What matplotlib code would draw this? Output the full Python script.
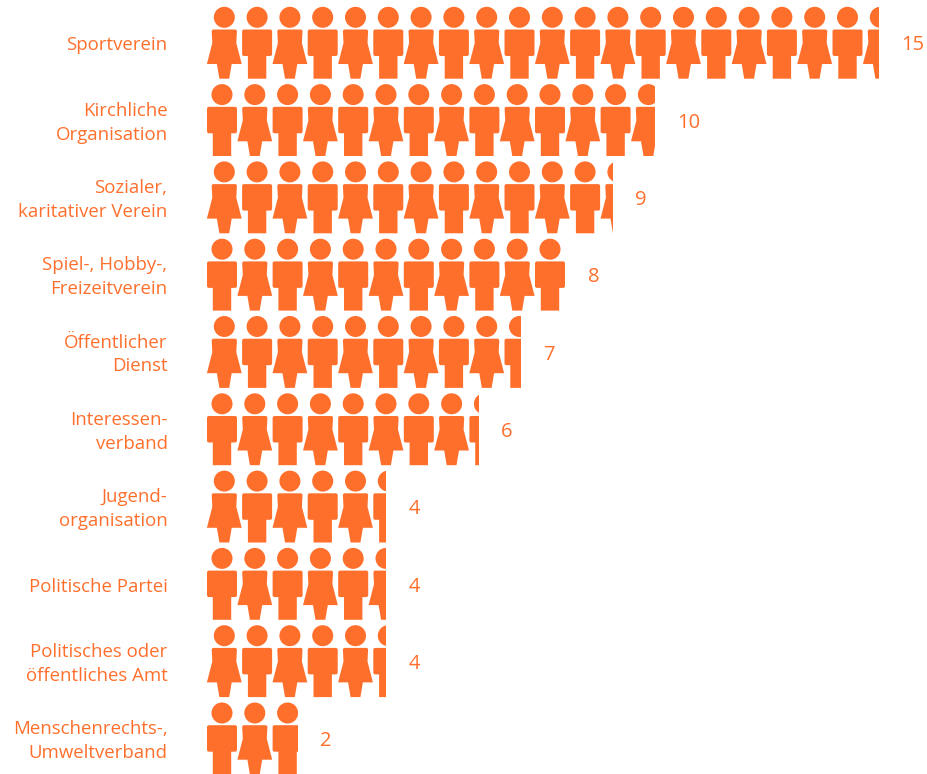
import matplotlib
matplotlib.use('Agg')
import matplotlib.pyplot as plt
from matplotlib.patches import Ellipse, PathPatch, Rectangle
from matplotlib.path import Path
from matplotlib.transforms import ScaledTranslation

plt.rcParams['font.family'] = ['Open Sans', 'DejaVu Sans']

# Categories and values, top to bottom
categories = ['Sportverein', 'Kirchliche\nOrganisation', 'Sozialer,\nkaritativer Verein',
              'Spiel-, Hobby-,\nFreizeitverein', 'Öffentlicher\nDienst', 'Interessen-\nverband',
              'Jugend-\norganisation', 'Politische Partei', 'Politisches oder\nöffentliches Amt',
              'Menschenrechts-,\nUmweltverband']
values = [15, 10, 9.06, 8, 7, 6.07, 4, 4, 4, 2.03]
labels = ['15', '10', '9', '8', '7', '6', '4', '4', '4', '2']

color = '#FF6F2C'

# pixels per unit on the two axes
px_x = 44.8
px_y = 77.3
pitch = 32.8 / px_x

fig = plt.figure(figsize=(9.27, 7.74), dpi=100)
ax = fig.add_axes([207 / 927, 0, 720 / 927, 1])
ax.set_xlim(0, 720 / px_x)
ax.set_ylim((774 - 43.4) / px_y, -43.4 / px_y)

ax.set_yticks(range(len(categories)))
ax.set_yticklabels(categories, color=color, fontsize=13.4, linespacing=1.42, ma='right')
ax.tick_params(axis='y', length=0, pad=28.4)
ax.set_xticks([])
for s in ax.spines.values():
    s.set_visible(False)

# two-line labels sit a little higher than the plain centre
up = ScaledTranslation(0, 2.2 / 72, fig.dpi_scale_trans)
for t, name in zip(ax.get_yticklabels(), categories):
    if '\n' in name:
        t.set_transform(t.get_transform() + up)


def rounded(points, r=2.0):
    # closed polygon with small round corners on the marked points
    verts, codes = [], []
    for n, (x, y, is_round) in enumerate(points):
        if is_round:
            px, py, _ = points[n - 1]
            nx, ny, _ = points[(n + 1) % len(points)]
            d1 = ((px - x) ** 2 + (py - y) ** 2) ** 0.5
            d2 = ((nx - x) ** 2 + (ny - y) ** 2) ** 0.5
            verts += [(x + (px - x) * r / d1, y + (py - y) * r / d1), (x, y),
                      (x + (nx - x) * r / d2, y + (ny - y) * r / d2)]
            codes += [Path.LINETO, Path.CURVE3, Path.CURVE3]
        else:
            verts.append((x, y))
            codes.append(Path.LINETO)
    codes[0] = Path.MOVETO
    verts.append(verts[0])
    codes.append(Path.CLOSEPOLY)
    return verts, codes


# body outlines in pixels around the figure's centre line and the row's centre
woman = [(-12.7, -13.9, 1), (12.7, -13.9, 1), (12.0, -0.4, 0), (17.4, 20.6, 0), (7.4, 20.6, 0),
         (4.9, 35.3, 0), (-4.9, 35.3, 0), (-7.4, 20.6, 0), (-17.4, 20.6, 0), (-12.0, -0.4, 0)]
man = [(-15, -13.9, 1), (15, -13.9, 1), (15, 12.6, 1), (9.2, 12.6, 0), (9.2, 35.3, 0),
       (-9.2, 35.3, 0), (-9.2, 12.6, 0), (-15, 12.6, 1)]

for i, val in enumerate(values):
    clip = Rectangle((0, i - 0.5), val, 1.2, transform=ax.transData)
    woman_first = i % 2 == 0
    first = (17.3 if woman_first else 15.0) / px_x
    for k in range(int(val / pitch) + 2):
        cx = first + k * pitch
        shape = woman if (k % 2 == 0) == woman_first else man
        verts, codes = rounded(shape)
        verts = [(cx + x / px_x, i + y / px_y) for x, y in verts]
        body = PathPatch(Path(verts, codes), facecolor=color, edgecolor='none')
        head = Ellipse((cx, i - 26.1 / px_y), 2 * 10.5 / px_x, 2 * 10.5 / px_y,
                       facecolor=color, edgecolor='none')
        for p in (body, head):
            ax.add_patch(p)
            p.set_clip_path(clip)
    ax.annotate(labels[i], (val, i), xytext=(16, -1.5), textcoords='offset points',
                color=color, fontsize=14.5, va='center', ha='left')

fig.savefig('out.png', dpi=100)
